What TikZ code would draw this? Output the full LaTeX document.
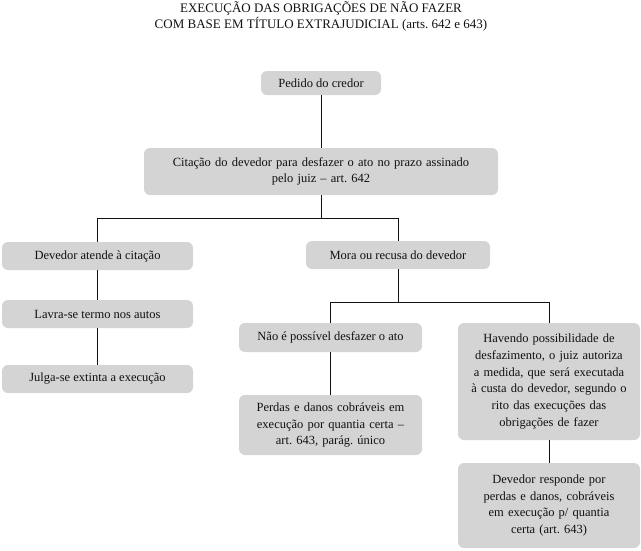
\documentclass[tikz,border=0pt]{standalone}
\usepackage{fontspec}
\setmainfont{Liberation Serif}
\usepackage{tikz}
\usetikzlibrary{positioning}
\definecolor{BoxGray}{HTML}{D4D4D4}
\definecolor{Ink}{HTML}{111111}
\frenchspacing

\begin{document}
\begin{tikzpicture}[
  x=1pt,y=-1pt,
  stage/.style={fill=BoxGray,rounded corners=6pt,align=center,inner sep=0pt,font=\fontsize{12.5}{16.8}\selectfont,text=Ink},
  link/.style={draw=Ink,line width=0.8pt}
]
  \useasboundingbox (0,0) rectangle (641,550);
  \node[align=center,font=\fontsize{13}{16}\selectfont,text=Ink] (title) at (321,16) {EXECUÇÃO DAS OBRIGAÇÕES DE NÃO FAZER\\COM BASE EM TÍTULO EXTRAJUDICIAL (arts.\ 642 e 643)};
  \node[stage,minimum width=120,minimum height=24] (pedido) at (321,83) {Pedido do credor};
  \node[stage,minimum width=354,minimum height=47,text width=340] (citacao) at (321,171.5) {Citação do devedor para desfazer o ato no prazo assinado\\pelo juiz -- art.\ 642};
  \node[stage,minimum width=191,minimum height=28] (atende) at (97.5,256) {Devedor atende à citação};
  \node[stage,minimum width=184,minimum height=28] (mora) at (398,255) {Mora ou recusa do devedor};
  \node[stage,minimum width=191,minimum height=28] (lavra) at (97.5,314) {Lavra-se termo nos autos};
  \node[stage,minimum width=191,minimum height=28] (julga) at (97.5,379) {Julga-se extinta a execução};
  \node[stage,minimum width=183,minimum height=29] (nao) at (330.5,337.5) {Não é possível desfazer o ato};
  \node[stage,minimum width=183,minimum height=60,text width=175] (perdas) at (330.5,425) {Perdas e danos cobráveis em\\execução por quantia certa --\\art.\ 643, parág.\ único};
  \node[stage,minimum width=182,minimum height=117,text width=175] (havendo) at (549,381.5) {Havendo possibilidade de\\desfazimento, o juiz autoriza\\a medida, que será executada\\à custa do devedor, segundo o\\rito das execuções das\\obrigações de fazer};
  \node[stage,minimum width=182,minimum height=85,text width=175] (responde) at (549,505.5) {Devedor responde por\\perdas e danos, cobráveis\\em execução p/ quantia\\certa (art.\ 643)};
  \coordinate (fork1) at (321,218);
  \coordinate (fork2) at (398,302);
  \draw[link] (pedido) -- (citacao);
  \draw[link] (citacao) -- (fork1);
  \draw[link] (fork1) -| (atende);
  \draw[link] (fork1) -| (mora);
  \draw[link] (atende) -- (lavra);
  \draw[link] (lavra) -- (julga);
  \draw[link] (mora) -- (fork2);
  \draw[link] (fork2) -| (nao);
  \draw[link] (fork2) -| (havendo);
  \draw[link] (nao) -- (perdas);
  \draw[link] (havendo) -- (responde);
\end{tikzpicture}
\end{document}
